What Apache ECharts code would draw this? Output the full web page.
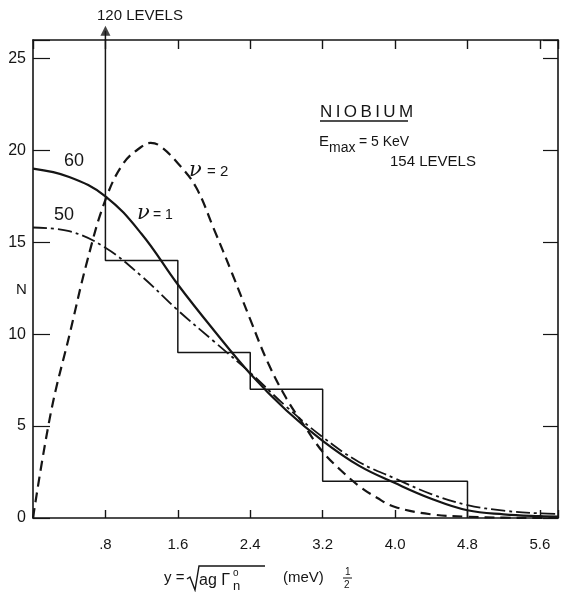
<!DOCTYPE html>
<html><head><meta charset="utf-8">
<script src="https://cdn.jsdelivr.net/npm/echarts@6/dist/echarts.min.js"></script>
<style>html,body{margin:0;padding:0;background:#fff}#c{width:576px;height:592px}</style>
</head><body><div id="c"></div>
<script>
// ---- data ----
const xTickLabels = ['', '.8', '1.6', '2.4', '3.2', '4.0', '4.8', '5.6'];
const yTickLabels = ['0', '5', '10', '15', '20', '25'];
const binEdges = [0, 0.8, 1.6, 2.4, 3.2, 4.0, 4.8];
const binCounts = [120, 14, 9, 7, 2, 2];
const curveX = [0, 0.4, 0.8, 1.2, 1.6, 2.0, 2.4, 2.8, 3.2, 3.6, 4.0, 4.4, 4.8, 5.2, 5.6, 5.8];
const nu1Norm60 = [19.0, 18.55, 17.5, 15.45, 12.7, 10.2, 7.85, 5.85, 4.2, 2.85, 1.9, 1.05, 0.42, 0.2, 0.1, 0.08];
const nu1Norm50 = [15.8, 15.6, 14.7, 13.15, 11.3, 9.6, 7.9, 6.05, 4.4, 3.05, 2.15, 1.3, 0.7, 0.4, 0.25, 0.22];
const nu2X = [0, 0.2, 0.4, 0.6, 0.8, 1.0, 1.2, 1.3, 1.4, 1.6, 1.8, 2.0, 2.2, 2.4, 2.6, 2.8, 3.0, 3.2, 3.4, 3.6, 3.8, 4.0, 4.4, 4.8, 5.2, 5.6, 5.8];
const nu2Vals = [0, 5.8, 9.9, 14.0, 17.3, 19.3, 20.2, 20.4, 20.25, 19.3, 18.0, 15.7, 13.3, 10.8, 8.4, 6.5, 5.0, 3.6, 2.6, 1.75, 1.1, 0.6, 0.2, 0.07, 0.02, 0.0, 0.0];
const firstBinArrow = [[0.8, 26], [0.8, 26.5]];

// ---- build series data ----
const pairs = (xs, ys) => xs.map((x, i) => [x, ys[i]]);
const histData = [];
for (let i = 0; i < binCounts.length; i++) {
  histData.push([binEdges[i], binCounts[i]], [binEdges[i + 1], binCounts[i]]);
}
histData.push([binEdges[binEdges.length - 1], 0]);

const INK = '#151515';
const FONT = 'Liberation Sans';
const xFmt = v => { const i = Math.round(v / 0.8); return Math.abs(v - i * 0.8) < 1e-6 ? (xTickLabels[i] || '') : ''; };
const yFmt = v => { const i = Math.round(v / 5); return Math.abs(v - i * 5) < 1e-6 ? (yTickLabels[i] || '') : ''; };
const axisLine = { show: true, onZero: false, lineStyle: { color: INK, width: 1.6 } };

const chart = echarts.init(document.getElementById('c'), null, { renderer: 'canvas' });
chart.setOption({
  animation: false,
  backgroundColor: '#fff',
  grid: { left: 33, right: 18, top: 40, bottom: 74 },
  xAxis: [
    { type: 'value', min: 0, max: 5.8, interval: 0.8, position: 'bottom',
      axisLine, splitLine: { show: false },
      axisTick: { inside: true, length: 8, lineStyle: { color: INK, width: 1.4 } },
      axisLabel: { formatter: xFmt, margin: 19, color: INK, fontSize: 15, fontFamily: FONT } },
    { type: 'value', min: 0, max: 5.8, interval: 0.8, position: 'top',
      axisLine, splitLine: { show: false },
      axisTick: { inside: true, length: 9, lineStyle: { color: INK, width: 1.4 } },
      axisLabel: { show: false } }
  ],
  yAxis: [
    { type: 'value', min: 0, max: 26, interval: 5, position: 'left',
      axisLine, splitLine: { show: false },
      axisTick: { inside: true, length: 17, lineStyle: { color: INK, width: 1.2 } },
      axisLabel: { formatter: yFmt, margin: 7, color: INK, fontSize: 16, fontFamily: FONT } },
    { type: 'value', min: 0, max: 26, interval: 5, position: 'right',
      axisLine, splitLine: { show: false },
      axisTick: { inside: true, length: 15, lineStyle: { color: INK, width: 1.2 } },
      axisLabel: { show: false } }
  ],
  series: [
    { type: 'line', data: histData, symbol: 'none', clip: true,
      lineStyle: { color: INK, width: 1.5 } },
    { type: 'line', data: firstBinArrow, symbol: 'none', clip: false,
      lineStyle: { color: INK, width: 1.5 } },
    { type: 'scatter', data: [firstBinArrow[1]], symbol: 'triangle', symbolSize: [10, 10], clip: false,
      itemStyle: { color: INK } },
    { type: 'line', data: pairs(curveX, nu1Norm60), symbol: 'none', smooth: 0.4,
      lineStyle: { color: INK, width: 2.2 } },
    { type: 'line', data: pairs(curveX, nu1Norm50), symbol: 'none', smooth: 0.4,
      lineStyle: { color: INK, width: 1.8, type: [14, 4, 3, 4] } },
    { type: 'line', data: pairs(nu2X, nu2Vals), symbol: 'none', smooth: 0.4,
      lineStyle: { color: INK, width: 2.2, type: [10, 6] } }
  ],
  graphic: [
    { type: 'text', left: 97, top: 8, style: { text: '120 LEVELS', fill: INK, font: '15px "Liberation Sans"' } },
    { type: 'text', x: 64, y: 161, style: { text: '60', fill: INK, font: '18px "Liberation Sans"', verticalAlign: 'middle' } },
    { type: 'text', x: 54, y: 215, style: { text: '50', fill: INK, font: '18px "Liberation Sans"', verticalAlign: 'middle' } },
    { type: 'text', x: 137, y: 214, style: { text: 'ν', fill: INK, font: 'italic 21px "DejaVu Serif"', verticalAlign: 'middle' } },
    { type: 'text', x: 153, y: 215, style: { text: '= 1', fill: INK, font: '14px "Liberation Sans"', verticalAlign: 'middle' } },
    { type: 'text', x: 189, y: 171, style: { text: 'ν', fill: INK, font: 'italic 21px "DejaVu Serif"', verticalAlign: 'middle' } },
    { type: 'text', x: 207, y: 172, style: { text: '= 2', fill: INK, font: '15px "Liberation Sans"', verticalAlign: 'middle' } },
    { type: 'text', x: 16, y: 290, style: { text: 'N', fill: INK, font: '15px "Liberation Sans"', verticalAlign: 'middle' } },
    { type: 'text', x: 320, y: 112, style: { text: 'N\u2009I\u2009O\u2009B\u2009I\u2009U\u2009M', fill: INK, font: '17px "Liberation Sans"', verticalAlign: 'middle' } },
    { type: 'line', shape: { x1: 320, y1: 121, x2: 408, y2: 121 }, style: { stroke: INK, lineWidth: 1.4 } },
    { type: 'text', x: 319, y: 142, style: { text: 'E', fill: INK, font: '15px "Liberation Sans"', verticalAlign: 'middle' } },
    { type: 'text', x: 329, y: 148, style: { text: 'max', fill: INK, font: '14px "Liberation Sans"', verticalAlign: 'middle' } },
    { type: 'text', x: 359, y: 142, style: { text: '= 5 KeV', fill: INK, font: '14px "Liberation Sans"', verticalAlign: 'middle' } },
    { type: 'text', x: 390, y: 162, style: { text: '154 LEVELS', fill: INK, font: '15px "Liberation Sans"', verticalAlign: 'middle' } },
    // x-axis title: y = sqrt(ag Γn°) (meV)^1/2
    { type: 'text', x: 164, y: 578, style: { text: 'y =', fill: INK, font: '15px "Liberation Sans"', verticalAlign: 'middle' } },
    { type: 'polyline', shape: { points: [[187, 579], [190, 577], [195, 590], [199, 566], [265, 566]] }, style: { stroke: INK, fill: null, lineWidth: 1.4 } },
    { type: 'text', x: 199, y: 581, style: { text: 'ag Γ', fill: INK, font: '16px "Liberation Sans"', verticalAlign: 'middle' } },
    { type: 'text', x: 233, y: 586, style: { text: 'n', fill: INK, font: '13px "Liberation Sans"', verticalAlign: 'middle' } },
    { type: 'text', x: 233, y: 573, style: { text: 'o', fill: INK, font: '10px "Liberation Sans"', verticalAlign: 'middle' } },
    { type: 'text', x: 283, y: 578, style: { text: '(meV)', fill: INK, font: '15px "Liberation Sans"', verticalAlign: 'middle' } },
    { type: 'text', x: 345, y: 572, style: { text: '1', fill: INK, font: '10px "Liberation Sans"', verticalAlign: 'middle' } },
    { type: 'line', shape: { x1: 343, y1: 578, x2: 352, y2: 578 }, style: { stroke: INK, lineWidth: 1 } },
    { type: 'text', x: 344, y: 585, style: { text: '2', fill: INK, font: '10px "Liberation Sans"', verticalAlign: 'middle' } }
  ]
});
</script>
</body></html>
